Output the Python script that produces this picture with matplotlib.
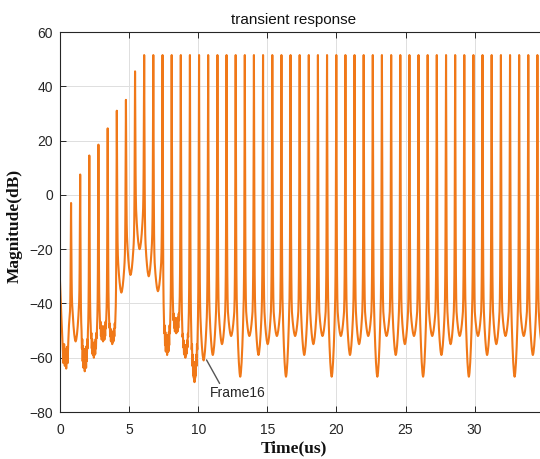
import matplotlib
matplotlib.use("Agg")
import matplotlib.pyplot as plt

# ---- data ----
# spike peak times (us) and their levels (dB)
peak_t = [0.80, 1.46, 2.12, 2.78, 3.45, 4.11, 4.77, 5.43, 6.09, 6.75,
          7.42, 8.08, 8.74, 9.40, 10.06, 10.72, 11.39, 12.05, 12.71, 13.37,
          14.03, 14.69, 15.36, 16.02, 16.68, 17.34, 18.00, 18.66, 19.32, 19.99,
          20.65, 21.31, 21.97, 22.63, 23.29, 23.96, 24.62, 25.28, 25.94, 26.60,
          27.26, 27.93, 28.59, 29.25, 29.91, 30.57, 31.23, 31.90, 32.56, 33.22,
          33.88, 34.54]
peak_db = [-3, 7.5, 14.5, 18.5, 24.5, 31, 35, 45.5] + [51.5] * 44

# valley after each spike: bottom level, shoulder level, ripple depth (dB)
valley_db = [-54, -65, -60, -54, -55, -36, -29.5, -20, -30, -35.5,
             -59, -51, -60, -69, -61, -59, -55, -52, -67, -52,
             -59, -55, -52, -67, -52, -59, -55, -52, -67, -52,
             -59, -55, -52, -67, -52, -59, -55, -52, -67, -52,
             -59, -55, -52, -67, -52, -59, -55, -52, -67, -52,
             -59, -55]
shoulder_db = [-42, -50, -48, -45, -45, -25, -18, -8, -18, -25,
               -45, -42, -48, -50, -45] + [-43] * 37
ripple_db = [0, 9, 6, 6, 5, 0, 0, 0, 0, 0, 8, 6, 5, 8, 0] + [0] * 37

# start of the record before the first spike
lead_t = [0.0, 0.1, 0.2, 0.25, 0.3, 0.35, 0.4, 0.45, 0.5, 0.55, 0.6, 0.65]
lead_db = [-32, -45, -56, -62, -55, -63, -57, -64, -56, -62, -54, -48]

spike_u = [0.0, 0.03, 0.07, 0.12, 0.17, 0.23]
spike_f = [1.0, 0.82, 0.55, 0.30, 0.14, 0.05]
bowl_u = [0.30, 0.38, 0.46, 0.54, 0.62, 0.70, 0.78, 0.86, 0.93, 1.0]
bowl_g = [1.0, 0.80, 0.62, 0.47, 0.34, 0.22, 0.13, 0.06, 0.02, 0.0]
bowl_rip = [0.0, 0.6, 0.1, 0.9, 0.2, 1.0, 0.3, 0.9, 0.1, 1.0]

orange = "#F07818"
dark = "#262626"


def half(tp, P, S, V, J, h, side):
    ts, ys = [], []
    for u, f in zip(spike_u, spike_f):
        ts.append(tp + side * u * h)
        ys.append(S + (P - S) * f)
    top = V + J
    for u, g, r in zip(bowl_u, bowl_g, bowl_rip):
        ts.append(tp + side * u * h)
        ys.append(top + (S - top) * g - J * r)
    if side < 0:
        ts, ys = ts[::-1], ys[::-1]
    return ts, ys


t_all = list(lead_t)
y_all = list(lead_db)
h0 = (peak_t[1] - peak_t[0]) / 2
ts, ys = half(peak_t[0], peak_db[0], -45, -50, 0, h0, -1)
t_all += ts[-len(spike_u):]
y_all += ys[-len(spike_u):]
n = len(peak_t)
for k in range(n):
    h = (peak_t[k + 1] - peak_t[k]) / 2 if k < n - 1 else h0
    ts, ys = half(peak_t[k], peak_db[k], shoulder_db[k], valley_db[k],
                  ripple_db[k], h, 1)
    t_all += ts
    y_all += ys
    if k < n - 1:
        ts, ys = half(peak_t[k + 1], peak_db[k + 1], shoulder_db[k],
                      valley_db[k], ripple_db[k], h, -1)
        t_all += ts
        y_all += ys

plt.rcParams['font.family'] = ['Liberation Sans', 'DejaVu Sans']
fig = plt.figure(figsize=(5.40, 4.59), dpi=100)
ax = fig.add_axes([60 / 540, 47 / 459, 481 / 540, 380 / 459])

ax.plot(t_all, y_all, color=orange, lw=1.5, solid_joinstyle='round')

ax.set_xlim(0, 34.8)
ax.set_ylim(-80, 60)
ax.set_xticks([0, 5, 10, 15, 20, 25, 30])
ax.set_yticks([-80, -60, -40, -20, 0, 20, 40, 60])
ax.grid(True, color="#dfdfdf", lw=0.7)
ax.set_axisbelow(True)
ax.tick_params(direction='in', length=4, width=0.7, colors=dark,
               labelsize=10, top=True, right=False)
ax.tick_params(axis='x', pad=8)
ax.tick_params(axis='y', pad=5)
for sp in ax.spines.values():
    sp.set_color(dark)
    sp.set_linewidth(0.8)

ax.text(0.4865, 1.032, "transient response", transform=ax.transAxes,
        ha='center', va='center', fontsize=11, color="#111111")
ax.set_xlabel("Time(us)", fontfamily="Liberation Serif", fontweight='bold',
              fontsize=12.5, color="#111111")
ax.xaxis.set_label_coords(0.4865, -0.075)
ax.set_ylabel("Magnitude(dB)", fontfamily="Liberation Serif",
              fontweight='bold', fontsize=12.5, color="#111111")
ax.yaxis.set_label_coords(-0.077, 0.49)

ax.annotate("Frame16", xy=(10.6, -60.8), xytext=(10.85, -70.5),
            ha='left', va='top', fontsize=10, color=dark,
            arrowprops=dict(arrowstyle='-', color="#555555", lw=1,
                            shrinkA=0, shrinkB=0, relpos=(0.2, 1.0)))

fig.savefig("out.png", dpi=100)
